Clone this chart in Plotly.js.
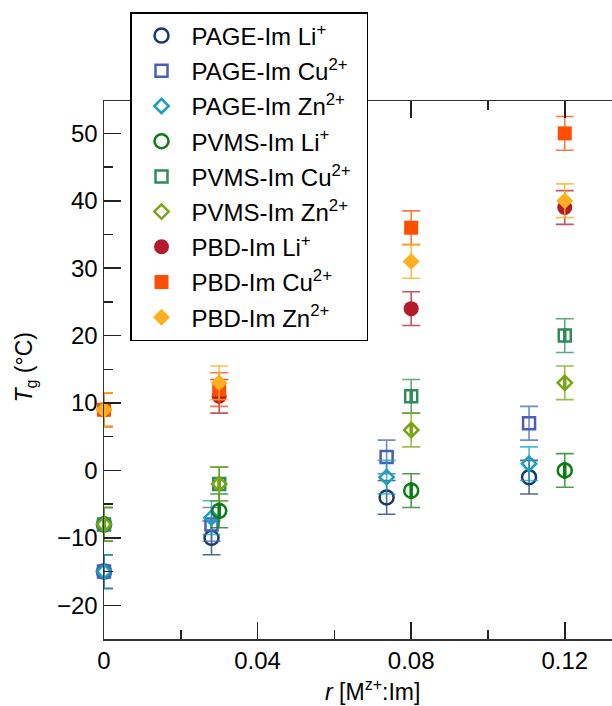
<!DOCTYPE html>
<html>
<head>
<meta charset="utf-8">
<script src="https://cdn.plot.ly/plotly-3.0.1.min.js"></script>
<style>html,body{margin:0;padding:0;background:#fff;}#chart{width:612px;height:706px;}</style>
</head>
<body>
<div id="chart"></div>
<script>
// ---- data ----
const xPAGE = [0, 0.028, 0.0736, 0.1107];
const xPVMS = [0, 0.03, 0.08, 0.12];
const xPBD  = [0, 0.03, 0.08, 0.12];

const pageLi = [-15, -10, -4, -1];
const pageCu = [-15, -8, 2, 7];
const pageZn = [-15, -7, -1, 1];
const pvmsLi = [-8, -6, -3, 0];
const pvmsCu = [-8, -2, 11, 20];
const pvmsZn = [-8, -2, 6, 13];
const pbdLi  = [9, 11, 24, 39];
const pbdCu  = [9, 12, 36, 50];
const pbdZn  = [9, 13, 31, 40];

const errPAGE = [2.5, 2.5, 2.5, 2.5];
const errPVMS = [2.5, 2.5, 2.5, 2.5];
const errPBD  = [2.5, 2.5, 2.5, 2.5];

const names = [
  'PAGE-Im Li<sup>+</sup>', 'PAGE-Im Cu<sup>2+</sup>', 'PAGE-Im Zn<sup>2+</sup>',
  'PVMS-Im Li<sup>+</sup>', 'PVMS-Im Cu<sup>2+</sup>', 'PVMS-Im Zn<sup>2+</sup>\u00a0\u00a0',
  'PBD-Im Li<sup>+</sup>', 'PBD-Im Cu<sup>2+</sup>', 'PBD-Im Zn<sup>2+</sup>'
];
const xTickVals = [0, 0.04, 0.08, 0.12];
const xTickText = ['0', '0.04', '0.08', '0.12'];
const xTitle = '<i>r</i> [M<sup>z+</sup>:Im]';
const yTitle = '<i>T</i><sub>g</sub> (°C)';

// ---- styles ----
const series = [
  {x: xPAGE, y: pageLi, e: errPAGE, c: '#173a6a', ec: 'rgba(23,58,106,0.75)', sym: 'circle-open', size: 14, lw: 2.5},
  {x: xPAGE, y: pageCu, e: errPAGE, c: '#4760b6', ec: 'rgba(71,96,182,0.75)', sym: 'square-open', size: 12, lw: 2.5},
  {x: xPAGE, y: pageZn, e: errPAGE, c: '#189fc0', ec: 'rgba(24,159,192,0.75)', sym: 'diamond-open', size: 11, lw: 2.5},
  {x: xPVMS, y: pvmsLi, e: errPVMS, c: '#0b7d12', ec: 'rgba(11,125,18,0.75)', sym: 'circle-open', size: 14, lw: 2.5, bar: true},
  {x: xPVMS, y: pvmsCu, e: errPVMS, c: '#2e8b5a', ec: 'rgba(46,139,90,0.75)', sym: 'square-open', size: 12, lw: 2.5, bar: true},
  {x: xPVMS, y: pvmsZn, e: errPVMS, c: '#78a612', ec: 'rgba(120,166,18,0.75)', sym: 'diamond-open', size: 11, lw: 2.5, bar: true},
  {x: xPBD, y: pbdLi, e: errPBD, c: '#b31b2b', ec: 'rgba(179,27,43,0.75)', sym: 'circle', size: 15, lw: 0},
  {x: xPBD, y: pbdCu, e: errPBD, c: '#ff4e00', ec: 'rgba(255,78,0,0.75)', sym: 'square', size: 14, lw: 0},
  {x: xPBD, y: pbdZn, e: errPBD, c: '#ffb020', ec: 'rgba(255,176,32,0.8)', sym: 'diamond', size: 13, lw: 0}
];

const traces = [];
series.forEach((s, i) => {
  traces.push({
    type: 'scatter', mode: 'markers', x: s.x, y: s.y, name: names[i],
    legendgroup: 'g' + i,
    marker: {symbol: s.sym, size: s.size, color: s.c, line: {color: s.c, width: s.lw}},
    error_y: {type: 'data', array: s.e, visible: true, color: s.ec, thickness: 1.6, width: 9},
    cliponaxis: false
  });
  if (s.bar) {
    traces.push({
      type: 'scatter', mode: 'markers', x: s.x, y: s.y, showlegend: false,
      legendgroup: 'g' + i, hoverinfo: 'skip',
      marker: {symbol: 'line-ns-open', size: s.size - 2, color: s.c, line: {color: s.c, width: 3.5}},
      cliponaxis: false
    });
  }
});

const font = 'Liberation Sans, Arial, Helvetica, sans-serif';
const layout = {
  width: 612, height: 706,
  margin: {l: 104, r: 0, t: 101, b: 67, pad: 0},
  paper_bgcolor: '#fff', plot_bgcolor: '#fff',
  font: {family: font, size: 24, color: '#000'},
  showlegend: true,
  legend: {
    x: 0.0512, y: 1.1654, xanchor: 'left', yanchor: 'top',
    bgcolor: '#fff', bordercolor: '#000', borderwidth: 1.5,
    font: {family: font, size: 24, color: '#000'},
    traceorder: 'grouped', tracegroupgap: 1, itemwidth: 50
  },
  xaxis: {
    range: [0, 0.1323], showgrid: false, zeroline: false,
    showline: true, linecolor: '#333', linewidth: 1.5, mirror: 'ticks',
    ticks: 'inside', ticklen: 17, tickwidth: 1.5, tickcolor: '#222',
    tickmode: 'array', tickvals: xTickVals, ticktext: xTickText,
    tickfont: {family: font, size: 24},
    minor: {dtick: 0.02, tick0: 0, ticks: 'inside', ticklen: 9, tickwidth: 1.5, tickcolor: '#222', showgrid: false}
  },
  yaxis: {
    range: [-25, 54.8], showgrid: false, zeroline: false,
    showline: true, linecolor: '#333', linewidth: 1.5, mirror: false,
    ticks: 'inside', ticklen: 17, tickwidth: 1.5, tickcolor: '#222',
    dtick: 10, tick0: 0, tickfont: {family: font, size: 24},
    minor: {dtick: 5, tick0: 0, ticks: 'inside', ticklen: 9, tickwidth: 1.5, tickcolor: '#222', showgrid: false}
  },
  annotations: [{
    text: xTitle, xref: 'paper', yref: 'paper', x: 0.528, y: -0.094,
    xanchor: 'center', yanchor: 'middle', showarrow: false,
    font: {family: font, size: 23, color: '#000'}
  }, {
    text: yTitle, xref: 'paper', yref: 'paper', x: -0.155, y: 0.505,
    xanchor: 'center', yanchor: 'middle', showarrow: false, textangle: -90,
    font: {family: font, size: 23, color: '#000'}
  }]
};

Plotly.newPlot('chart', traces, layout, {staticPlot: true, displayModeBar: false});
</script>
</body>
</html>
